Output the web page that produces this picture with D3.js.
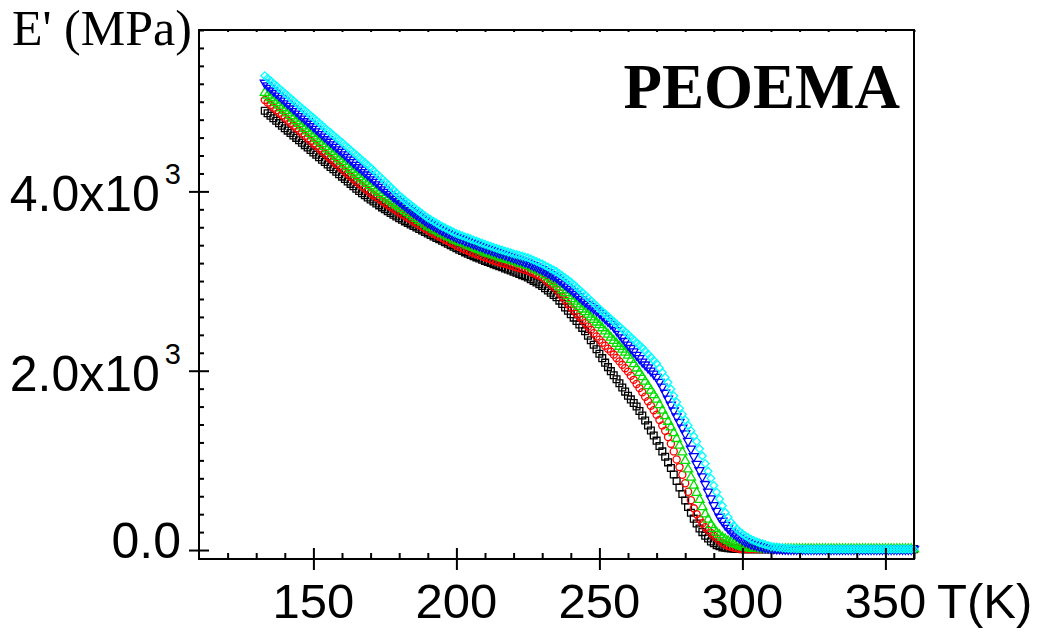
<!DOCTYPE html>
<html>
<head>
<meta charset="utf-8">
<script src="https://cdn.jsdelivr.net/npm/d3@7"></script>
<style>
  html, body { margin: 0; padding: 0; background: #fff; }
  svg { display: block; }
</style>
</head>
<body>
<svg id="chart" width="1039" height="635"></svg>
<script>
// Storage modulus E' of PEOEMA samples versus temperature (DMA scans)
const temps = [
  133, 134, 135, 136, 137, 138, 139,
  140, 141, 142, 143, 144, 145, 146, 147, 148, 149,
  150, 151, 152, 153, 154, 155, 156, 157, 158, 159,
  160, 161, 162, 163, 164, 165, 166, 167, 168, 169,
  170, 171, 172, 173, 174, 175, 176, 177, 178, 179,
  180, 181, 182, 183, 184, 185, 186, 187, 188, 189,
  190, 191, 192, 193, 194, 195, 196, 197, 198, 199,
  200, 201, 202, 203, 204, 205, 206, 207, 208, 209,
  210, 211, 212, 213, 214, 215, 216, 217, 218, 219,
  220, 221, 222, 223, 224, 225, 226, 227, 228, 229,
  230, 231, 232, 233, 234, 235, 236, 237, 238, 239,
  240, 241, 242, 243, 244, 245, 246, 247, 248, 249,
  250, 251, 252, 253, 254, 255, 256, 257, 258, 259,
  260, 261, 262, 263, 264, 265, 266, 267, 268, 269,
  270, 271, 272, 273, 274, 275, 276, 277, 278, 279,
  280, 281, 282, 283, 284, 285, 286, 287, 288, 289,
  290, 291, 292, 293, 294, 295, 296, 297, 298, 299,
  300, 301, 302, 303, 304, 305, 306, 307, 308, 309,
  310, 311, 312, 313, 314, 315, 316, 317, 318, 319,
  320, 321, 322, 323, 324, 325, 326, 327, 328, 329,
  330, 331, 332, 333, 334, 335, 336, 337, 338, 339,
  340, 341, 342, 343, 344, 345, 346, 347, 348, 349,
  350, 351, 352, 353, 354, 355, 356, 357, 358, 359,
  360
];

// E' (MPa) for each sample, one value per temperature above
const eSquare = [
  4900, 4872, 4844, 4816, 4788, 4761, 4733,
  4705, 4678, 4651, 4624, 4597, 4570, 4543, 4516, 4489, 4462,
  4435, 4408, 4381, 4354, 4327, 4300, 4273, 4246, 4219, 4192,
  4165, 4138, 4111, 4084, 4057, 4030, 4005, 3980, 3957, 3933,
  3910, 3888, 3866, 3844, 3822, 3800, 3780, 3760, 3740, 3720,
  3700, 3683, 3666, 3649, 3632, 3615, 3598, 3581, 3564, 3547,
  3530, 3514, 3498, 3482, 3466, 3450, 3433, 3416, 3399, 3382,
  3365, 3350, 3335, 3320, 3305, 3290, 3277, 3264, 3251, 3238,
  3225, 3213, 3201, 3189, 3177, 3165, 3153, 3141, 3129, 3117,
  3105, 3092, 3079, 3066, 3053, 3040, 3021, 3002, 2983, 2964,
  2945, 2920, 2895, 2870, 2845, 2820, 2782, 2744, 2706, 2668,
  2630, 2592, 2554, 2516, 2478, 2440, 2390, 2340, 2290, 2240,
  2190, 2140, 2090, 2040, 1995, 1950, 1905, 1860, 1813, 1767,
  1720, 1680, 1640, 1600, 1550, 1500, 1445, 1390, 1333, 1277,
  1220, 1160, 1100, 1040, 978, 915, 843, 770, 698, 625,
  553, 480, 415, 350, 295, 240, 200, 160, 128, 95,
  75, 55, 43, 30, 25, 20, 17, 14, 12, 11,
  10, 10, 10, 10, 10, 10, 10, 10, 10, 10,
  10, 10, 10, 10, 10, 10, 10, 10, 10, 10,
  10, 10, 10, 10, 10, 10, 10, 10, 10, 10,
  10, 10, 10, 10, 10, 10, 10, 10, 10, 10,
  10, 10, 10, 10, 10, 10, 10, 10, 10, 10,
  10, 10, 10, 10, 10, 10, 10, 10, 10, 10,
  10
];

const eCircle = [
  5020, 4991, 4963, 4934, 4906, 4877, 4849,
  4820, 4791, 4762, 4733, 4704, 4675, 4647, 4619, 4591, 4563,
  4535, 4506, 4477, 4448, 4419, 4390, 4362, 4334, 4306, 4278,
  4250, 4222, 4194, 4166, 4138, 4110, 4084, 4058, 4032, 4006,
  3980, 3958, 3936, 3914, 3892, 3870, 3849, 3828, 3807, 3786,
  3765, 3745, 3725, 3705, 3685, 3665, 3645, 3625, 3605, 3585,
  3565, 3548, 3531, 3514, 3497, 3480, 3463, 3446, 3429, 3412,
  3395, 3381, 3367, 3353, 3339, 3325, 3313, 3301, 3289, 3277,
  3265, 3254, 3243, 3232, 3221, 3210, 3201, 3192, 3183, 3174,
  3165, 3155, 3145, 3135, 3125, 3115, 3101, 3087, 3073, 3059,
  3045, 3017, 2989, 2961, 2933, 2905, 2865, 2825, 2785, 2745,
  2705, 2670, 2635, 2600, 2565, 2530, 2493, 2456, 2419, 2382,
  2345, 2312, 2279, 2246, 2213, 2180, 2142, 2104, 2066, 2028,
  1990, 1944, 1898, 1852, 1806, 1760, 1710, 1660, 1610, 1560,
  1510, 1450, 1390, 1330, 1260, 1185, 1100, 1010, 925, 840,
  745, 650, 555, 465, 400, 345, 298, 255, 222, 190,
  160, 130, 105, 80, 62, 45, 35, 25, 20, 15,
  12, 11, 10, 10, 10, 10, 10, 10, 10, 10,
  10, 10, 10, 10, 10, 10, 10, 10, 10, 10,
  10, 10, 10, 10, 10, 10, 10, 10, 10, 10,
  10, 10, 10, 10, 10, 10, 10, 10, 10, 10,
  10, 10, 10, 10, 10, 10, 10, 10, 10, 10,
  10, 10, 10, 10, 10, 10, 10, 10, 10, 10,
  10
];

const eTriUp = [
  5100, 5071, 5043, 5014, 4986, 4957, 4929,
  4900, 4871, 4842, 4813, 4784, 4755, 4727, 4699, 4671, 4643,
  4615, 4586, 4557, 4528, 4499, 4470, 4442, 4414, 4386, 4358,
  4330, 4301, 4272, 4243, 4214, 4185, 4160, 4135, 4110, 4085,
  4060, 4035, 4010, 3985, 3960, 3935, 3913, 3891, 3869, 3847,
  3825, 3803, 3781, 3759, 3737, 3715, 3694, 3673, 3652, 3631,
  3610, 3593, 3576, 3559, 3542, 3525, 3510, 3495, 3480, 3465,
  3450, 3437, 3424, 3411, 3398, 3385, 3372, 3359, 3346, 3333,
  3320, 3309, 3298, 3287, 3276, 3265, 3256, 3247, 3238, 3229,
  3220, 3210, 3200, 3190, 3180, 3170, 3155, 3140, 3125, 3110,
  3095, 3069, 3043, 3017, 2991, 2965, 2932, 2899, 2866, 2833,
  2800, 2771, 2742, 2713, 2684, 2655, 2626, 2597, 2568, 2539,
  2510, 2475, 2440, 2405, 2370, 2335, 2302, 2269, 2236, 2203,
  2170, 2122, 2074, 2026, 1978, 1930, 1880, 1830, 1780, 1730,
  1680, 1618, 1556, 1494, 1432, 1370, 1305, 1240, 1165, 1090,
  995, 900, 810, 720, 640, 560, 480, 400, 340, 280,
  238, 195, 168, 140, 120, 100, 85, 70, 58, 46,
  35, 29, 23, 18, 16, 14, 12, 11, 10, 10,
  10, 10, 10, 10, 10, 10, 10, 10, 10, 10,
  10, 10, 10, 10, 10, 10, 10, 10, 10, 10,
  10, 10, 10, 10, 10, 10, 10, 10, 10, 10,
  10, 10, 10, 10, 10, 10, 10, 10, 10, 10,
  10, 10, 10, 10, 10, 10, 10, 10, 10, 10,
  10
];

const eTriDown = [
  5210, 5181, 5153, 5124, 5096, 5067, 5039,
  5010, 4981, 4952, 4923, 4894, 4865, 4837, 4809, 4781, 4753,
  4725, 4696, 4667, 4638, 4609, 4580, 4552, 4524, 4496, 4468,
  4440, 4411, 4382, 4353, 4324, 4295, 4268, 4241, 4214, 4187,
  4160, 4132, 4104, 4076, 4048, 4020, 3994, 3968, 3942, 3916,
  3890, 3865, 3840, 3815, 3790, 3765, 3743, 3721, 3699, 3677,
  3655, 3637, 3619, 3601, 3583, 3565, 3550, 3535, 3520, 3505,
  3490, 3478, 3466, 3454, 3442, 3430, 3418, 3406, 3394, 3382,
  3370, 3359, 3348, 3337, 3326, 3315, 3304, 3293, 3282, 3271,
  3260, 3249, 3238, 3227, 3216, 3205, 3190, 3175, 3160, 3145,
  3130, 3112, 3094, 3076, 3058, 3040, 3014, 2988, 2962, 2936,
  2910, 2882, 2854, 2826, 2798, 2770, 2745, 2720, 2695, 2670,
  2645, 2614, 2583, 2552, 2521, 2490, 2450, 2410, 2370, 2330,
  2290, 2252, 2214, 2176, 2138, 2100, 2068, 2035, 2000, 1965,
  1930, 1875, 1820, 1753, 1687, 1620, 1555, 1490, 1427, 1363,
  1300, 1215, 1130, 1045, 960, 890, 820, 735, 650, 575,
  500, 435, 370, 325, 280, 245, 210, 185, 160, 137,
  115, 100, 85, 70, 61, 52, 43, 35, 30, 25,
  20, 18, 16, 14, 12, 11, 10, 10, 10, 10,
  10, 10, 10, 10, 10, 10, 10, 10, 10, 10,
  10, 10, 10, 10, 10, 10, 10, 10, 10, 10,
  10, 10, 10, 10, 10, 10, 10, 10, 10, 10,
  10, 10, 10, 10, 10, 10, 10, 10, 10, 10,
  10
];

const eDiamond = [
  5290, 5262, 5234, 5206, 5178, 5151, 5123,
  5095, 5067, 5039, 5011, 4983, 4955, 4928, 4901, 4874, 4847,
  4820, 4792, 4764, 4736, 4708, 4680, 4653, 4626, 4599, 4572,
  4545, 4517, 4489, 4461, 4433, 4405, 4377, 4349, 4321, 4293,
  4265, 4234, 4203, 4172, 4141, 4110, 4079, 4048, 4017, 3986,
  3955, 3929, 3903, 3877, 3851, 3825, 3801, 3777, 3753, 3729,
  3705, 3686, 3667, 3648, 3629, 3610, 3594, 3578, 3562, 3546,
  3530, 3518, 3506, 3494, 3482, 3470, 3458, 3446, 3434, 3422,
  3410, 3399, 3388, 3377, 3366, 3355, 3345, 3335, 3325, 3315,
  3305, 3296, 3287, 3278, 3269, 3260, 3246, 3232, 3218, 3204,
  3190, 3173, 3156, 3139, 3122, 3105, 3082, 3059, 3036, 3013,
  2990, 2961, 2932, 2903, 2874, 2845, 2814, 2783, 2752, 2721,
  2690, 2662, 2634, 2606, 2578, 2550, 2521, 2492, 2463, 2434,
  2405, 2375, 2345, 2315, 2285, 2255, 2220, 2185, 2150, 2115,
  2080, 2030, 1980, 1925, 1870, 1795, 1720, 1650, 1580, 1515,
  1450, 1390, 1330, 1270, 1210, 1130, 1050, 965, 880, 800,
  720, 645, 570, 495, 420, 365, 310, 272, 235, 207,
  180, 160, 140, 120, 107, 93, 80, 70, 60, 50,
  40, 36, 32, 28, 24, 20, 18, 16, 14, 13,
  12, 11, 10, 10, 10, 10, 10, 10, 10, 10,
  10, 10, 10, 10, 10, 10, 10, 10, 10, 10,
  10, 10, 10, 10, 10, 10, 10, 10, 10, 10,
  10, 10, 10, 10, 10, 10, 10, 10, 10, 10,
  10
];

// axis settings
const xMajorTicks = [150, 200, 250, 300, 350];
const yMajorTicks = [0, 2000, 4000];
const yTickText = ["0.0", "2.0x10", "4.0x10"];
const chartTitle = "PEOEMA";
const yTitle = "E' (MPa)";
const xTitle = "T(K)";

(function () {
  const series = [
    { values: eSquare,   color: "#000000", shape: "square" },
    { values: eCircle,   color: "#ff0000", shape: "circle" },
    { values: eTriUp,    color: "#00e000", shape: "triUp" },
    { values: eTriDown,  color: "#0000ff", shape: "triDown" },
    { values: eDiamond,  color: "#00ffff", shape: "diamond" }
  ];

  const svg = d3.select("#chart");
  const pLeft = 199, pRight = 914, pTop = 30, pBottom = 559;

  const x = d3.scaleLinear().domain([110, 360]).range([pLeft, pRight]);
  const y = d3.scaleLinear().domain([-100, 5800]).range([pBottom, pTop]);

  const sansFont = "'Liberation Sans', Arial, Helvetica, sans-serif";
  const serifFont = "'Liberation Serif', 'Times New Roman', Times, serif";

  // marker glyphs
  const symbolFor = {
    square:  { path: d3.symbol(d3.symbolSquare, 46)(), rot: 0 },
    circle:  { path: d3.symbol(d3.symbolCircle, 40)(), rot: 0 },
    triUp:   { path: d3.symbol(d3.symbolTriangle, 36)(), rot: 0 },
    triDown: { path: d3.symbol(d3.symbolTriangle, 36)(), rot: 180 },
    diamond: { path: d3.symbol(d3.symbolSquare, 30)(), rot: 45 }
  };

  const plot = svg.append("g");
  series.forEach(s => {
    const sym = symbolFor[s.shape];
    plot.append("g")
      .selectAll("path")
      .data(temps.map((t, i) => [t, s.values[i]]))
      .join("path")
      .attr("d", sym.path)
      .attr("transform", d => `translate(${x(d[0])},${y(d[1])}) rotate(${sym.rot})`)
      .attr("fill", "none")
      .attr("stroke", s.color)
      .attr("stroke-width", 1.3);
  });

  // frame
  svg.append("rect")
    .attr("x", pLeft).attr("y", pTop)
    .attr("width", pRight - pLeft).attr("height", pBottom - pTop)
    .attr("fill", "none").attr("stroke", "#000").attr("stroke-width", 2);

  const xMinor = d3.range(120, 361, 10).filter(v => !xMajorTicks.includes(v));
  const yMinor = d3.range(200, 5801, 200).filter(v => !yMajorTicks.includes(v));

  function styleAxis(g) {
    g.select(".domain").remove();
    g.selectAll(".tick line").attr("stroke", "#000").attr("stroke-width", 2);
    g.selectAll(".tick text").remove();
  }

  // bottom axis: major ticks cross the axis, minor ticks point inward
  svg.append("g").attr("transform", `translate(0,${pBottom})`)
    .call(d3.axisBottom(x).tickValues(xMajorTicks).tickSize(11)).call(styleAxis);
  svg.append("g").attr("transform", `translate(0,${pBottom})`)
    .call(d3.axisTop(x).tickValues(xMajorTicks).tickSize(11)).call(styleAxis);
  svg.append("g").attr("transform", `translate(0,${pBottom})`)
    .call(d3.axisTop(x).tickValues(xMinor).tickSize(6)).call(styleAxis);

  // small ticks along the top edge
  svg.append("g").attr("transform", `translate(0,${pTop})`)
    .call(d3.axisBottom(x).tickValues(xMinor.concat(xMajorTicks)).tickSize(2)).call(styleAxis);

  // left axis
  svg.append("g").attr("transform", `translate(${pLeft},0)`)
    .call(d3.axisLeft(y).tickValues(yMajorTicks).tickSize(10)).call(styleAxis);
  svg.append("g").attr("transform", `translate(${pLeft},0)`)
    .call(d3.axisRight(y).tickValues(yMajorTicks).tickSize(10)).call(styleAxis);
  svg.append("g").attr("transform", `translate(${pLeft},0)`)
    .call(d3.axisRight(y).tickValues(yMinor).tickSize(5)).call(styleAxis);

  // x tick labels
  svg.append("g").selectAll("text")
    .data(xMajorTicks)
    .join("text")
    .attr("x", d => x(d))
    .attr("y", 618)
    .attr("text-anchor", "middle")
    .attr("font-family", sansFont)
    .attr("font-size", 49)
    .attr("fill", "#000")
    .text(d => d);

  // y tick labels with power-of-ten superscript
  const yLab = svg.append("g").selectAll("text")
    .data(yMajorTicks.map((v, i) => ({ v, label: yTickText[i] })))
    .join("text")
    .attr("x", 181)
    .attr("y", d => Math.min(y(d.v) + 20, 558))
    .attr("text-anchor", "end")
    .attr("font-family", sansFont)
    .attr("font-size", 50)
    .attr("fill", "#000");
  yLab.append("tspan").text(d => d.label);
  yLab.filter(d => d.v !== 0).append("tspan")
    .attr("dx", 5).attr("dy", -27)
    .attr("font-size", 29)
    .text("3");

  // axis titles
  svg.append("text")
    .attr("x", 12).attr("y", 45)
    .attr("font-family", serifFont)
    .attr("font-size", 50)
    .attr("fill", "#000")
    .text(yTitle);

  svg.append("text")
    .attr("x", 937).attr("y", 618)
    .attr("font-family", sansFont)
    .attr("font-size", 49)
    .attr("fill", "#000")
    .text(xTitle);

  svg.append("text")
    .attr("x", 900).attr("y", 108)
    .attr("text-anchor", "end")
    .attr("font-family", serifFont)
    .attr("font-weight", "bold")
    .attr("font-size", 63)
    .attr("fill", "#000")
    .text(chartTitle);
})();
</script>
</body>
</html>
